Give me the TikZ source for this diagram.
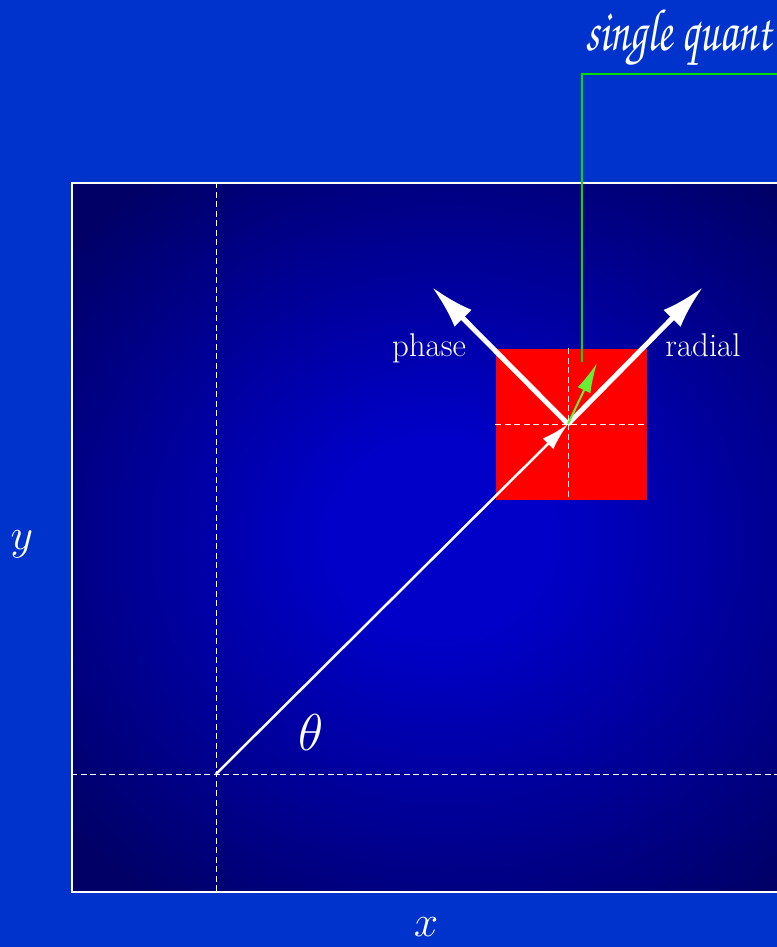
\documentclass[tikz,border=0pt]{standalone}
\usepackage{fix-cm}
\usepackage[T1,TU]{fontenc}
\usepackage{tikz}
\usetikzlibrary{arrows.meta,positioning}
\definecolor{qBg}{HTML}{0033CC}
\definecolor{qDeep}{HTML}{000066}
\definecolor{qGlow}{HTML}{0000C8}
\definecolor{qCell}{HTML}{FF0000}
\definecolor{qLead}{HTML}{00E000}
\definecolor{qStep}{HTML}{66F033}
\pgfdeclareradialshading{qglow}{\pgfpoint{-2bp}{0bp}}{%
  color(0bp)=(qGlow); color(7bp)=(qGlow);
  color(32bp)=(qDeep); color(50bp)=(qDeep)}
\newcommand\quantfont{\fontencoding{T1}\fontfamily{pzc}\fontseries{mb}%
  \fontshape{it}\fontsize{60}{66}\selectfont}
\tikzset{
  % field box with glow
  field/.style={rectangle,draw=white,line width=1.2bp,shading=qglow,
    minimum width=788bp,minimum height=709bp,inner sep=0pt},
  % single quantization cell
  cell/.style={rectangle,fill=qCell,minimum size=151bp,inner sep=0pt},
  % dashed guide lines
  guide/.style={draw=white,line width=1bp,dash pattern=on 6bp off 3.5bp},
  % arrows
  rvec/.style={-{Latex[length=28bp,width=15bp]},draw=white,line width=2.5bp},
  bvec/.style={-{Latex[length=44bp,width=24bp]},draw=white,line width=5bp},
  svec/.style={-{Latex[length=30bp,width=14bp]},draw=qStep,fill=qStep,line width=2bp},
  lead/.style={draw=qLead,line width=2.2bp},
  % labels
  lbl/.style={text=white,font=\fontsize{33}{38}\selectfont,inner sep=0pt},
  axlbl/.style={text=white,font=\fontsize{44}{50}\selectfont,inner sep=0pt},
}
\begin{document}
\begin{tikzpicture}[x=1bp,y=-1bp]
  \useasboundingbox (0,0) rectangle (777,947);
  \fill[qBg] (0,0) rectangle (777,947);
  \begin{scope}
    \clip (0,0) rectangle (777,947);
    \node[field,shade] (field) at (466,537.5) {};
    \coordinate (o) at (216,774);
    \coordinate (c) at (568,424);
    \draw[guide] (field.north -| o) -- (field.south -| o);
    \draw[guide] (field.west |- o) -- (field.east |- o);

    \node[cell] (cell) at (571,424) {};
    \draw[guide] (cell.north -| c) -- (cell.south -| c);
    \draw[guide] (cell.west |- c) -- (cell.east |- c);

    \coordinate (ptip) at (432,287);
    \coordinate (rtip) at (703,287);
    \coordinate (gtip) at (597,363);
    \coordinate (gfoot) at (582,362);
    \coordinate (gtop) at (582,74);
    \coordinate (gend) at (800,74);

    \draw[rvec] (o) -- (c);
    \draw[bvec] (c) -- (ptip);
    \draw[bvec] (c) -- (rtip);
    \draw[lead] (gfoot) -- (gtop) -- (gend);
    \draw[svec] (c) -- (gtip);

    \node[lbl,anchor=base] (phase) at (429,356) {phase};
    \node[lbl,anchor=base] (radial) at (703,356) {radial};
    \node[axlbl,font=\fontsize{52}{60}\selectfont] (theta) at (311,733) {$\theta$};
    \node[axlbl] (ylbl) at (22,544) {$y$};
    \node[axlbl] (xlbl) at (426,927) {$x$};
    \node[text=white,font=\quantfont,anchor=base west,inner sep=0pt,
      xscale=0.73] (title) at (585,50) {single quant};
  \end{scope}
\end{tikzpicture}
\end{document}
